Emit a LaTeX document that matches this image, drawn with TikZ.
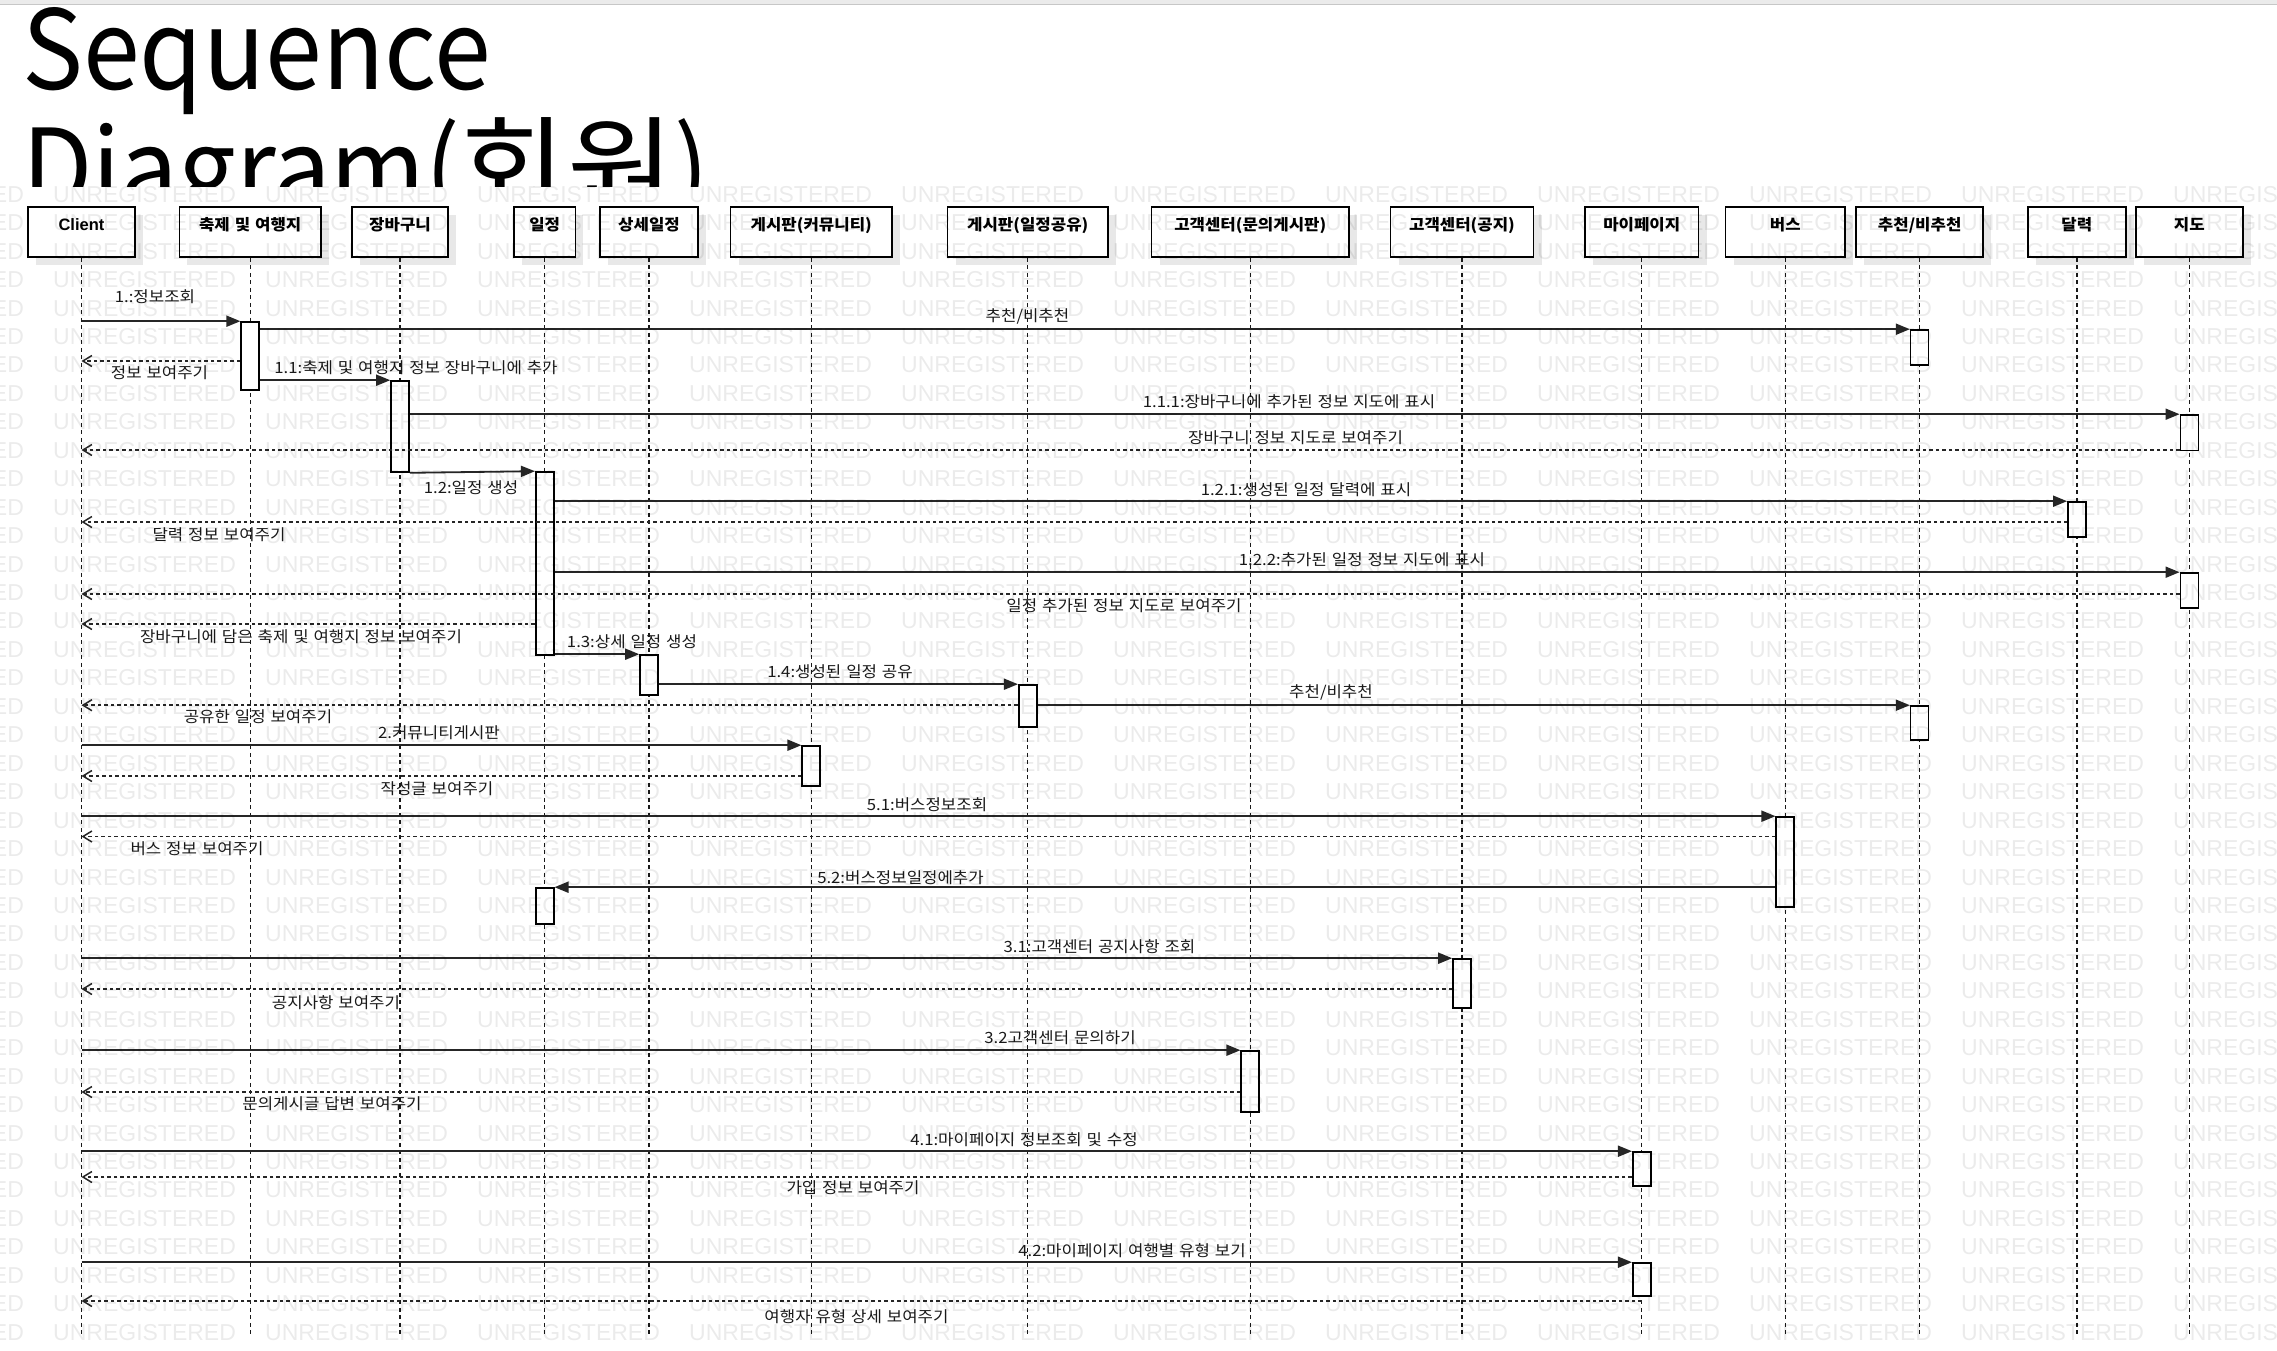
\documentclass[tikz,border=0pt]{standalone}
\usepackage{fontspec}
\setmainfont{Noto Sans CJK KR}[FakeStretch=1.08, WordSpace=1.3]
\newfontfamily\titlefont{Noto Sans CJK KR}[FakeStretch=0.93]
\newfontfamily\wmfont{Liberation Sans}
\newfontfamily\latinfont{Liberation Sans}
\usetikzlibrary{arrows.meta,shadows}
\begin{document}
\begin{tikzpicture}[x=1pt,y=-1pt,
  hdr/.style={draw=black, line width=1.8pt, fill=white, inner sep=0pt,
    minimum height=50pt, text height=23pt, text depth=27pt,
    font=\fontsize{15.5}{18}\selectfont\bfseries,
    drop shadow={shadow xshift=8pt, shadow yshift=-7.5pt, fill=black!9, opacity=1}},
  life/.style={line width=1.4pt, dash pattern=on 4pt off 3.5pt, black!90},
  act/.style={draw=black, line width=1.6pt, fill=white, minimum width=18pt, inner sep=0pt},
  call/.style={line width=1.8pt, black!85, -{Triangle[length=14pt,width=11pt]}},
  ret/.style={line width=1.5pt, black!85, dash pattern=on 3.5pt off 3pt,
    -{Straight Barb[length=9pt,width=11pt]}},
  lbl/.style={font=\fontsize{15.5}{18}\selectfont, inner sep=0pt, text=black!90},
  wm/.style={font=\wmfont\fontsize{23}{24}\selectfont, text=black, text opacity=0.08,
    anchor=west, inner sep=0pt},
  ttl/.style={font=\titlefont\fontsize{110}{120}\selectfont, anchor=base west, inner sep=0pt}
]
\useasboundingbox (0,0) rectangle (2277,1351);
\fill[white] (0,0) rectangle (2277,1351);
\fill[black!8] (0,0) rectangle (2277,4);
\draw[black!22, line width=1pt] (0,4.5) -- (2277,4.5);

% title
\begin{scope}
\clip (0,0) rectangle (2277,187);
\node[ttl] (t1) at (22,90) {Sequence};
\node[ttl] (t2) at (22,208) {Diagram(\scalebox{1.14}[1]{회원})};
\end{scope}

% headers
\node[hdr, minimum width=107pt]   (h1)  at (81.5,232)   {\latinfont\fontsize{16.5}{18}\selectfont Client};
\node[hdr, minimum width=141.6pt] (h2)  at (250.2,232)  {축제 및 여행지};
\node[hdr, minimum width=96pt]    (h3)  at (400,232)    {장바구니};
\node[hdr, minimum width=61.4pt]  (h4)  at (544.7,232)  {일정};
\node[hdr, minimum width=98pt]    (h5)  at (649,232)    {상세일정};
\node[hdr, minimum width=161.5pt] (h6)  at (811.25,232) {게시판(커뮤니티)};
\node[hdr, minimum width=160.5pt] (h7)  at (1027.75,232){게시판(일정공유)};
\node[hdr, minimum width=197.5pt] (h8)  at (1250.25,232){고객센터(문의게시판)};
\node[hdr, minimum width=143pt]   (h9)  at (1462,232)   {고객센터(공지)};
\node[hdr, minimum width=113.5pt] (h10) at (1641.75,232){마이페이지};
\node[hdr, minimum width=119.5pt] (h11) at (1785.25,232){버스};
\node[hdr, minimum width=127.3pt] (h12) at (1919.65,232){추천/비추천};
\node[hdr, minimum width=97.7pt]  (h13) at (2076.85,232){달력};
\node[hdr, minimum width=107.3pt] (h14) at (2189.35,232){지도};

% lifelines
\coordinate (bot) at (0,1337);
\foreach \h in {h1,h2,h3,h4,h5,h6,h7,h8,h9,h10,h11,h12,h13,h14}
  \draw[life] (\h.south) -- (\h.south |- bot);

% activations
\node[act, minimum height=68pt]   (a1)  at (h2 |- 0,356)     {};
\node[act, minimum height=35pt]   (a2)  at (h12 |- 0,347.5)  {};
\node[act, minimum height=91pt]   (a3)  at (h3 |- 0,426.5)   {};
\node[act, minimum height=35.5pt] (a4)  at (h14 |- 0,432.75) {};
\node[act, minimum height=183pt]  (a5)  at (h4 |- 0,563.5)   {};
\node[act, minimum height=35pt]   (a6)  at (h13 |- 0,519.5)  {};
\node[act, minimum height=35pt]   (a7)  at (h14 |- 0,590.5)  {};
\node[act, minimum height=40pt]   (a8)  at (h5 |- 0,675)     {};
\node[act, minimum height=42pt]   (a9)  at (h7 |- 0,706)     {};
\node[act, minimum height=34pt]   (a10) at (h12 |- 0,723)    {};
\node[act, minimum height=40pt]   (a11) at (h6 |- 0,766)     {};
\node[act, minimum height=90pt]   (a12) at (h11 |- 0,862)    {};
\node[act, minimum height=36pt]   (a13) at (h4 |- 0,906)     {};
\node[act, minimum height=49pt]   (a14) at (h9 |- 0,983.5)   {};
\node[act, minimum height=61pt]   (a15) at (h8 |- 0,1081.5)  {};
\node[act, minimum height=34pt]   (a16) at (h10 |- 0,1169)   {};
\node[act, minimum height=33pt]   (a17) at (h10 |- 0,1279.5) {};

% messages
\draw[call] (h1.south |- a1.north) -- (a1.north west);
\draw[call] (a1.east |- a2.north) -- (a2.north west);
\draw[ret]  (a1.west |- 0,361) -- (h1.south |- 0,361);
\draw[call] (a1.east |- a3.north) -- (a3.north west);
\draw[call] (a3.east |- a4.north) -- (a4.north west);
\draw[ret]  (a4.west |- 0,450) -- (h1.south |- 0,450);
\draw[call] (a3.south east) -- (a5.north west);
\draw[call] (a5.east |- a6.north) -- (a6.north west);
\draw[ret]  (a6.west |- 0,522) -- (h1.south |- 0,522);
\draw[call] (a5.east |- a7.north) -- (a7.north west);
\draw[ret]  (a7.west |- 0,594) -- (h1.south |- 0,594);
\draw[ret]  (a5.west |- 0,624) -- (h1.south |- 0,624);
\draw[call] (a5.east |- a8.north) -- (a8.north west);
\draw[call] (a8.east |- a9.north) -- (a9.north west);
\draw[call] (a9.east |- a10.north) -- (a10.north west);
\draw[ret]  (a9.west |- a10.north) -- (h1.south |- a10.north);
\draw[call] (h1.south |- a11.north) -- (a11.north west);
\draw[ret]  (a11.west |- 0,776) -- (h1.south |- 0,776);
\draw[call] (h1.south |- a12.north) -- (a12.north west);
\draw[ret]  (a12.west |- 0,836.5) -- (h1.south |- 0,836.5);
\draw[call] (a12.west |- a13.north) -- (a13.north east);
\draw[call] (h1.south |- a14.north) -- (a14.north west);
\draw[ret]  (a14.west |- 0,989) -- (h1.south |- 0,989);
\draw[call] (h1.south |- a15.north) -- (a15.north west);
\draw[ret]  (a15.west |- 0,1092) -- (h1.south |- 0,1092);
\draw[call] (h1.south |- a16.north) -- (a16.north west);
\draw[ret]  (a16.west |- 0,1177) -- (h1.south |- 0,1177);
\draw[call] (h1.south |- a17.north) -- (a17.north west);
\draw[ret]  (h10.south |- 0,1301) -- (h1.south |- 0,1301);

% labels
\node[lbl] (l1)  at (155,297)    {1.:정보조회};
\node[lbl] (l2)  at (1027.5,316) {추천/비추천};
\node[lbl] (l3)  at (159.5,373)  {정보 보여주기};
\node[lbl] (l4)  at (416,368)    {1.1:축제 및 여행지 정보 장바구니에 추가};
\node[lbl] (l5)  at (1289,402)   {1.1.1:장바구니에 추가된 정보 지도에 표시};
\node[lbl] (l6)  at (1295.5,438) {장바구니 정보 지도로 보여주기};
\node[lbl] (l7)  at (471,488)    {1.2:일정 생성};
\node[lbl] (l8)  at (1306,490)   {1.2.1:생성된 일정 달력에 표시};
\node[lbl] (l9)  at (219,535)    {달력 정보 보여주기};
\node[lbl] (l10) at (1362,560)   {1.2.2:추가된 일정 정보 지도에 표시};
\node[lbl] (l11) at (1124,606)   {일정 추가된 정보 지도로 보여주기};
\node[lbl] (l12) at (301,637)    {장바구니에 담은 축제 및 여행지 정보 보여주기};
\node[lbl] (l13) at (632,642)    {1.3:상세 일정 생성};
\node[lbl] (l14) at (840,672)    {1.4:생성된 일정 공유};
\node[lbl] (l15) at (1331,692)   {추천/비추천};
\node[lbl] (l16) at (258,717)    {공유한 일정 보여주기};
\node[lbl] (l17) at (439,733)    {2.커뮤니티게시판};
\node[lbl] (l18) at (437,789)    {작성글 보여주기};
\node[lbl] (l19) at (927,805)    {5.1:버스정보조회};
\node[lbl] (l20) at (197,849)    {버스 정보 보여주기};
\node[lbl] (l21) at (900.5,878)  {5.2:버스정보일정에추가};
\node[lbl] (l22) at (1099.5,947) {3.1:고객센터 공지사항 조회};
\node[lbl] (l23) at (336,1003)   {공지사항 보여주기};
\node[lbl] (l24) at (1060,1038)  {3.2고객센터 문의하기};
\node[lbl] (l25) at (332,1104)   {문의게시글 답변 보여주기};
\node[lbl] (l26) at (1024,1140)  {4.1:마이페이지 정보조회 및 수정};
\node[lbl] (l27) at (853,1188)   {가입 정보 보여주기};
\node[lbl] (l28) at (1132,1251)  {4.2:마이페이지 여행별 유형 보기};
\node[lbl] (l29) at (856.5,1317) {여행자 유형 상세 보여주기};

% watermark overlay
\foreach \r in {0,...,40}
  \foreach \c in {-1,...,10}
    \node[wm] (wm-\r-\c) at ({53+212*\c},{194.3+28.45*\r}) {UNREGISTERED};
\end{tikzpicture}
\end{document}
